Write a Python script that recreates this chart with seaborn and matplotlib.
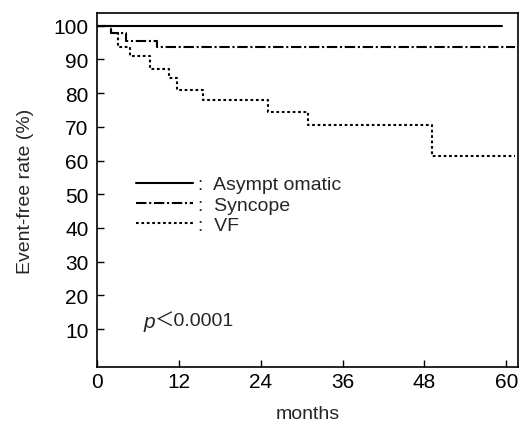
import seaborn as sns
import pandas as pd
import matplotlib
matplotlib.use('Agg')
import matplotlib.pyplot as plt

# step data (months, event-free rate %)
asym_months = [0, 59.4]
asym_rate = [100, 100]

sync_months = [0, 2.0, 4.2, 8.8, 61.3]
sync_rate = [100, 97.8, 95.6, 93.7, 93.7]

vf_months = [0, 2.0, 3.1, 4.8, 7.7, 10.6, 11.7, 15.6, 25.1, 31.0, 49.1, 61.3]
vf_rate = [100, 97.8, 93.7, 90.9, 87.3, 84.6, 81.0, 77.9, 74.4, 70.7, 61.3, 61.3]

x_ticks = [0, 12, 24, 36, 48, 60]
y_ticks = [10, 20, 30, 40, 50, 60, 70, 80, 90, 100]


def to_df(months, rate, name):
    df = pd.DataFrame({'months': months, 'rate': rate})
    df['group'] = name
    return df


sns.set_style('ticks')
plt.rcParams['font.family'] = ['Liberation Sans', 'DejaVu Sans']

fig = plt.figure(figsize=(5.2, 4.31), dpi=100)
ax = fig.add_axes([0.1865, 0.146, 0.8095, 0.8215])

series = [
    (to_df(asym_months, asym_rate, 'asym'), '-', ':  Asympt omatic'),
    (to_df(sync_months, sync_rate, 'sync'), (0, (5.0, 1.3, 1.0, 1.3)), ':  Syncope'),
    (to_df(vf_months, vf_rate, 'vf'), (0, (1.3, 1.3)), ':  VF'),
]
for df, ls, lab in series:
    sns.lineplot(data=df, x='months', y='rate', ax=ax, color='black',
                 linewidth=1.5, linestyle=ls, drawstyle='steps-post',
                 label=lab, sort=False)

ax.set_xlim(0, 61.7)
ax.set_ylim(-1.3, 103.8)
ax.set_xticks(x_ticks)
ax.set_yticks(y_ticks)
ax.tick_params(direction='in', length=5, width=1, labelsize=15, colors='black')
ax.tick_params(axis='y', pad=6)
for sp in ax.spines.values():
    sp.set_linewidth(1.2)
    sp.set_color('black')

ax.set_xlabel('months', fontsize=14, labelpad=10)
ax.set_ylabel('Event-free rate (%)', fontsize=14, labelpad=14)

leg = ax.legend(loc='upper left', bbox_to_anchor=(0.093, 0.54), frameon=False,
                fontsize=14, handlelength=2.9, handletextpad=0.3,
                labelspacing=0.13, borderpad=0, borderaxespad=0)

# p-value note: italic p, then the rest
p_txt = ax.text(0.11, 0.13, 'p', transform=ax.transAxes, fontsize=15,
                style='italic', va='center', ha='left')
ax.annotate('\uff1c0.0001', xy=(1.0, 0.5), xycoords=p_txt, va='center',
            ha='left', fontsize=14,
            family=['Liberation Sans', 'Noto Sans CJK JP'])

fig.savefig('out.png', dpi=100)
